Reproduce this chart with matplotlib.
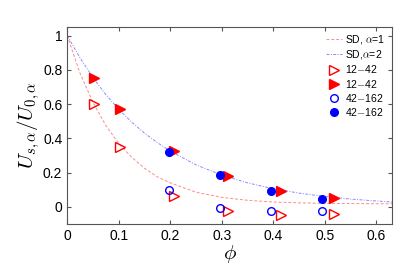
import matplotlib
matplotlib.use("Agg")
import matplotlib.pyplot as plt

plt.rcParams['font.family'] = ['Liberation Sans', 'DejaVu Sans']
plt.rcParams['mathtext.fontset'] = 'cm'

# SD curves
sdPhi = [0.0, 0.025, 0.05, 0.075, 0.1, 0.125, 0.15, 0.175, 0.2, 0.25, 0.3, 0.35, 0.4, 0.45, 0.5, 0.55, 0.6, 0.63]
sdAlpha1 = [1.0, 0.78, 0.61, 0.475, 0.37, 0.29, 0.225, 0.175, 0.14, 0.085, 0.055, 0.038, 0.028, 0.023, 0.02, 0.019, 0.018, 0.018]
sdAlpha2 = [1.0, 0.87, 0.755, 0.655, 0.57, 0.495, 0.43, 0.375, 0.325, 0.245, 0.185, 0.14, 0.105, 0.08, 0.06, 0.045, 0.034, 0.028]

# simulation points
triPhi = [0.052, 0.103, 0.208, 0.312, 0.414, 0.517]
triOpen = [0.60, 0.347, 0.066, -0.025, -0.047, -0.041]
triFilled = [0.754, 0.57, 0.327, 0.182, 0.095, 0.05]

circPhi = [0.198, 0.297, 0.396, 0.495]
circOpen = [0.099, -0.008, -0.027, -0.023]
circFilled = [0.32, 0.186, 0.095, 0.047]

fig = plt.figure(figsize=(4.07, 2.65), dpi=100)
ax = fig.add_axes([0.165, 0.155, 0.798, 0.743])

ax.plot(sdPhi, sdAlpha1, linestyle=(0, (3, 2)), color='#ff8a8a', lw=0.7, label='SD, $\\alpha$=1')
ax.plot(sdPhi, sdAlpha2, linestyle=(0, (3, 1.5, 1, 1.5)), color='#8a8aff', lw=0.7, label='SD,$\\alpha$=2')
ax.plot(triPhi, triOpen, '>', mfc='none', mec='red', mew=1.0, ms=6.5, linestyle='none', label='12$-$42')
ax.plot(triPhi, triFilled, '>', color='red', ms=6.5, linestyle='none', label='12$-$42')
ax.plot(circPhi, circOpen, 'o', mfc='none', mec='blue', mew=1.0, ms=5.5, linestyle='none', label='42$-$162')
ax.plot(circPhi, circFilled, 'o', color='blue', ms=5.5, linestyle='none', label='42$-$162')

ax.set_xlim(0, 0.63)
ax.set_ylim(-0.1, 1.05)
ax.set_xticks([0, 0.1, 0.2, 0.3, 0.4, 0.5, 0.6])
ax.set_xticklabels(['0', '0.1', '0.2', '0.3', '0.4', '0.5', '0.6'])
ax.set_yticks([0, 0.2, 0.4, 0.6, 0.8, 1])
ax.set_yticklabels(['0', '0.2', '0.4', '0.6', '0.8', '1'])
ax.tick_params(direction='in', top=True, right=True, labelsize=10, length=3, color='#555555')
for s in ax.spines.values():
    s.set_color('#555555')

ax.set_xlabel('$\\phi$', fontsize=15, labelpad=0)
ax.set_ylabel('$U_{s,\\alpha}/U_{0,\\alpha}$', fontsize=15, labelpad=1)

ax.legend(loc='upper right', frameon=False, fontsize=7.5, handlelength=1.6,
          handletextpad=0.3, labelspacing=0.2, borderaxespad=0.2)

fig.savefig('out.png', dpi=100)
